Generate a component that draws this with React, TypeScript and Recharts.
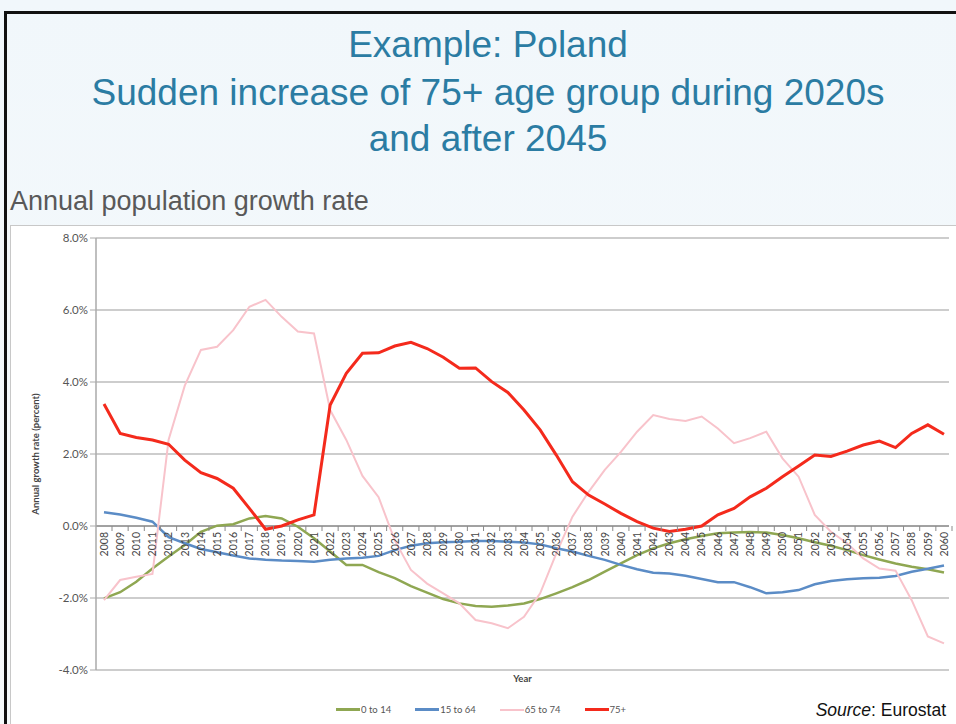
import { LineChart, Line, XAxis, YAxis, CartesianGrid, ReferenceLine } from 'recharts'

const years = [
  '2008', '2009', '2010', '2011', '2012', '2013', '2014', '2015', '2016', '2017',
  '2018', '2019', '2020', '2021', '2022', '2023', '2024', '2025', '2026', '2027',
  '2028', '2029', '2030', '2031', '2032', '2033', '2034', '2035', '2036', '2037',
  '2038', '2039', '2040', '2041', '2042', '2043', '2044', '2045', '2046', '2047',
  '2048', '2049', '2050', '2051', '2052', '2053', '2054', '2055', '2056', '2057',
  '2058', '2059', '2060',
]

// annual growth rate, percent
const age0to14 = [
  -2.01, -1.84, -1.55, -1.18, -0.85, -0.53, -0.16, 0.01, 0.05, 0.21,
  0.28, 0.21, -0.02, -0.34, -0.71, -1.08, -1.08, -1.28, -1.45, -1.67,
  -1.85, -2.03, -2.15, -2.22, -2.24, -2.21, -2.15, -2.03, -1.87, -1.7,
  -1.5, -1.27, -1.04, -0.81, -0.62, -0.48, -0.37, -0.28, -0.2, -0.18,
  -0.17, -0.18, -0.25, -0.34, -0.45, -0.55, -0.67, -0.81, -0.93, -1.04,
  -1.13, -1.2, -1.29,
]
const age15to64 = [
  0.38, 0.32, 0.23, 0.12, -0.31, -0.48, -0.64, -0.73, -0.82, -0.9,
  -0.94, -0.96, -0.97, -0.99, -0.94, -0.9, -0.88, -0.83, -0.67, -0.55,
  -0.48, -0.45, -0.44, -0.42, -0.42, -0.44, -0.46, -0.51, -0.62, -0.71,
  -0.83, -0.94, -1.08, -1.2, -1.3, -1.32, -1.38, -1.47, -1.56, -1.56,
  -1.7, -1.87, -1.84, -1.78, -1.62, -1.53, -1.48, -1.45, -1.44, -1.39,
  -1.27, -1.19, -1.1,
]
const age65to74 = [
  -2.06, -1.5, -1.41, -1.33, 2.4, 3.9, 4.89, 4.98, 5.44, 6.09,
  6.28, 5.81, 5.4, 5.35, 3.22, 2.39, 1.39, 0.8, -0.4, -1.22,
  -1.6, -1.87, -2.15, -2.61, -2.7, -2.84, -2.52, -1.87, -0.76, 0.26,
  0.95, 1.56, 2.06, 2.62, 3.08, 2.97, 2.92, 3.04, 2.71, 2.3,
  2.44, 2.62, 1.88, 1.37, 0.31, -0.16, -0.48, -0.9, -1.18, -1.24,
  -2.06, -3.07, -3.26,
]
const age75plus = [
  3.39, 2.57, 2.46, 2.39, 2.27, 1.83, 1.48, 1.32, 1.05, 0.49,
  -0.09, 0.0, 0.17, 0.31, 3.36, 4.24, 4.8, 4.81, 5.0, 5.1,
  4.93, 4.69, 4.38, 4.39, 4.01, 3.71, 3.22, 2.67, 1.97, 1.23,
  0.86, 0.61, 0.35, 0.12, -0.06, -0.15, -0.09, 0.0, 0.31, 0.49,
  0.81, 1.05, 1.37, 1.67, 1.97, 1.93, 2.08, 2.25, 2.36, 2.18,
  2.57, 2.81, 2.55,
]

const yTicks = [-4, -2, 0, 2, 4, 6, 8]

const series = [
  { key: 'a0', name: '0 to 14', color: '#8fa752', width: 2.5 },
  { key: 'a15', name: '15 to 64', color: '#5b8cc6', width: 2.5 },
  { key: 'a65', name: '65 to 74', color: '#f8c3cb', width: 2 },
  { key: 'a75', name: '75+', color: '#f42a1c', width: 3 },
]

const data = years.map((year, i) => ({
  year,
  a0: age0to14[i],
  a15: age15to64[i],
  a65: age65to74[i],
  a75: age75plus[i],
}))

const CHART_W = 946
const CHART_H = 498
const margin = { top: 12, right: 8, bottom: 24, left: 0 }
const X_AXIS_H = 30
const Y_MIN = -4
const Y_MAX = 8
const plotH = CHART_H - margin.top - margin.bottom - X_AXIS_H
const zeroY = margin.top + (plotH * Y_MAX) / (Y_MAX - Y_MIN)

const tickFont = 'Lato, "Open Sans", sans-serif'

// year labels sit on the 0% line, rotated, like the Excel original
function YearTick(props: any) {
  const { x, payload } = props
  return (
    <g transform={`translate(${x},${zeroY})`}>
      <line x1={8} y1={0} x2={8} y2={5} stroke="#8a8a8a" strokeWidth={1} />
      <text
        transform="rotate(-90)"
        x={-6}
        y={0}
        dy="0.36em"
        textAnchor="end"
        fontSize={10.5}
        fill="#444"
        fontFamily={tickFont}
      >
        {payload.value}
      </text>
    </g>
  )
}

export default function App() {
  return (
    <div
      style={{
        position: 'absolute',
        left: 0,
        top: 0,
        width: 956,
        height: 724,
        overflow: 'hidden',
        background: 'linear-gradient(180deg, #f1f7fb 0%, #f6fafc 100%)',
        fontFamily: '"Liberation Sans", Arial, sans-serif',
      }}
    >
      {/* slide frame */}
      <div style={{ position: 'absolute', left: 4, top: 11, width: 960, height: 720, borderLeft: '3px solid #111', borderTop: '3px solid #111' }} />

      <div
        style={{
          position: 'absolute',
          left: 20,
          top: 22,
          width: 936,
          textAlign: 'center',
          color: '#2b7ca3',
          fontSize: 37,
          lineHeight: '46px',
        }}
      >
        <div>Example: Poland</div>
        <div style={{ marginTop: 2 }}>Sudden increase of 75+ age group during 2020s</div>
        <div>and after 2045</div>
      </div>

      <div style={{ position: 'absolute', left: 10, top: 185, fontSize: 27, color: '#595959', lineHeight: '32px' }}>
        Annual population growth rate
      </div>

      <div
        style={{
          position: 'absolute',
          left: 10,
          top: 225,
          width: 946,
          height: 499,
          background: '#fff',
          borderTop: '1px solid #c8c8c8',
          borderLeft: '1px solid #c8c8c8',
        }}
      >
        <LineChart width={CHART_W} height={CHART_H} data={data} margin={margin}>
          <CartesianGrid horizontal vertical={false} stroke="#bdbdbd" strokeWidth={1.5} />
          <XAxis
            dataKey="year"
            interval={0}
            height={X_AXIS_H}
            axisLine={false}
            tickLine={false}
            tick={<YearTick />}
            padding={{ left: 8, right: 5 }}
            label={{
              value: 'Year',
              position: 'insideTop',
              offset: 5,
              style: { fontSize: 9.5, fontWeight: 700, fill: '#444', fontFamily: tickFont },
            }}
          />
          <YAxis
            width={85}
            domain={[Y_MIN, Y_MAX]}
            ticks={yTicks}
            allowDataOverflow
            tickFormatter={(v: number) => `${v.toFixed(1)}%`}
            tick={{ fontSize: 11.5, fill: '#555', fontFamily: tickFont }}
            tickSize={6}
            tickLine={{ stroke: '#aaa' }}
            axisLine={{ stroke: '#aaa', strokeWidth: 1.5 }}
            label={{
              value: 'Annual growth rate (percent)',
              angle: -90,
              position: 'insideLeft',
              offset: 25,
              style: { textAnchor: 'middle', fontSize: 9.5, fontWeight: 700, fill: '#444', fontFamily: tickFont },
            }}
          />
          <ReferenceLine y={0} stroke="#777" strokeWidth={1} />
          {series.map((s) => (
            <Line
              key={s.key}
              type="linear"
              dataKey={s.key}
              name={s.name}
              stroke={s.color}
              strokeWidth={s.width}
              dot={false}
              isAnimationActive={false}
            />
          ))}
        </LineChart>
      </div>

      {/* legend */}
      <div
        style={{
          position: 'absolute',
          left: 336,
          top: 704,
          display: 'flex',
          alignItems: 'center',
          fontFamily: tickFont,
          fontSize: 9.5,
          color: '#555',
        }}
      >
        {series.map((s) => (
          <div key={s.key} style={{ display: 'flex', alignItems: 'center', marginRight: 24 }}>
            <span style={{ display: 'inline-block', width: 24, height: s.width, background: s.color, marginRight: 1 }} />
            <span>{s.name}</span>
          </div>
        ))}
      </div>

      <div style={{ position: 'absolute', right: 10, top: 700, fontSize: 17.5, color: '#111' }}>
        <i>Source</i>: Eurostat
      </div>
    </div>
  )
}
